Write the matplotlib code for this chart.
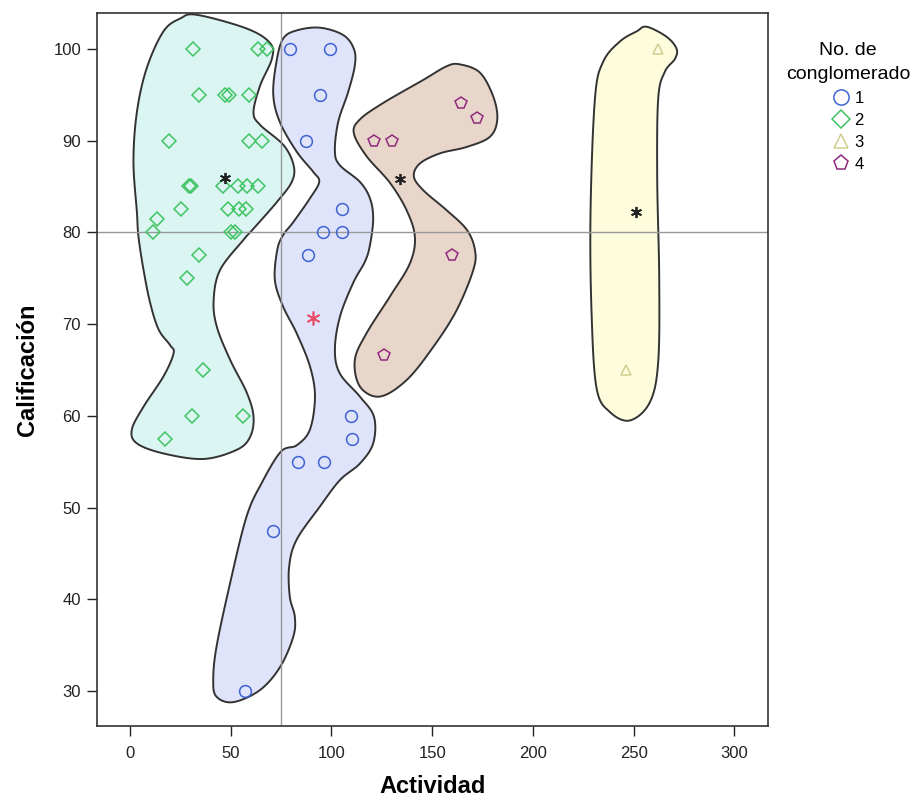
import numpy as np
import matplotlib
matplotlib.use("Agg")
import matplotlib.pyplot as plt
from matplotlib.lines import Line2D

plt.rcParams['font.family'] = ['Liberation Sans', 'DejaVu Sans']

# ---------------- data ----------------
c1_x = [79.3, 99.2, 94.2, 87.3, 105.3, 95.6, 105.3, 88.4, 109.5, 110.3, 83.3, 96.4, 71.2, 57.3]
c1_y = [100, 100, 95, 90, 82.5, 80, 80, 77.5, 60, 57.5, 55, 55, 47.5, 30]

c2_x = [31.2, 63.5, 67.9, 34.3, 46.9, 48.9, 59.3, 19.4, 59.1, 65.4, 29.5, 30.5, 46.1, 53.4,
        58.0, 63.5, 25.2, 48.4, 53.9, 57.7, 13.3, 11.3, 50.0, 52.2, 34.3, 28.2, 36.1, 31.0, 56.0, 17.3]
c2_y = [100, 100, 100, 95, 95, 95, 95, 90, 90, 90, 85, 85, 85, 85,
        85, 85, 82.5, 82.5, 82.5, 82.5, 81.4, 80, 80, 80, 77.5, 75, 65, 60, 60, 57.5]

c3_x = [262.2, 246.2]
c3_y = [100, 65]

c4_x = [164.2, 172.0, 121.1, 130.2, 159.6, 126.2]
c4_y = [94.1, 92.5, 90, 90, 77.5, 66.6]

centroid_x = [46.9, 134.0, 251.0]
centroid_y = [85.9, 85.8, 82.2]
overall_x = [90.6]
overall_y = [70.7]

ref_x = 75
ref_y = 80

# region outlines (data units)
hull2_x = [33.2, 58.0, 69.6, 70.4, 64.6, 61.3, 64.6, 76.2, 81.2, 80.3, 72.9, 61.3, 56.4, 44.7,
           41.5, 43.1, 49.7, 58.0, 61.3, 59.6, 53.0, 36.5, 16.6, 3.4, 0.9, 6.7, 16.6, 21.6, 19.9,
           14.2, 10.0, 6.7, 4.2, 3.4, 1.7, 3.4, 8.3, 16.6, 24.9]
hull2_y = [103.7, 102.2, 100.6, 98.9, 96.0, 93.1, 91.7, 89.5, 87.3, 85.5, 83.3, 80.4, 79.2, 75.9,
           72.6, 69.7, 66.1, 62.5, 59.9, 57.7, 56.3, 55.3, 55.9, 57.0, 58.5, 61.0, 64.3, 66.8, 67.7,
           69.4, 72.3, 75.9, 79.5, 82.2, 87.7, 93.1, 97.9, 101.9, 103.3]

hull1_x = [76.0, 82.7, 94.2, 105.8, 111.1, 111.6, 108.3, 103.3, 101.7, 104.2, 114.1, 119.1, 120.7,
           119.1, 116.6, 110.8, 104.2, 101.7, 104.2, 114.1, 121.1, 120.7, 114.1, 104.2, 94.2, 82.7,
           79.0, 79.3, 81.8, 81.0, 74.4, 64.4, 51.2, 42.9, 41.3, 42.9, 49.6, 57.8, 65.4, 74.9, 82.8,
           89.3, 91.8, 89.3, 82.7, 76.0, 71.9, 73.1, 76.0, 81.0, 89.3, 93.9, 90.9, 82.7, 74.4, 71.1, 72.7]
hull1_y = [101.1, 102.0, 102.3, 101.5, 100.0, 98.2, 95.3, 92.0, 88.8, 87.3, 85.5, 83.7, 81.5,
           78.6, 76.8, 74.5, 70.8, 67.2, 64.6, 62.1, 59.9, 57.0, 54.8, 53.0, 50.1, 46.5,
           43.6, 40.3, 38.1, 35.9, 32.6, 30.1, 28.8, 29.4, 31.2, 34.8, 41.7, 49.0, 52.7, 56.1, 56.8,
           58.5, 62.1, 65.4, 69.0, 71.9, 74.8, 78.1, 79.7, 81.1, 83.7, 85.5, 86.6, 88.8, 92.0, 95.0, 98.6]

hull4_x = [163.8, 173.7, 180.3, 182.3, 178.6, 167.1, 153.8, 143.9, 140.9, 145.5, 157.2, 167.1, 171.2,
           170.4, 162.1, 150.5, 137.3, 124.0, 114.1, 111.6, 117.4, 129.0, 138.9, 141.4, 137.3, 129.0,
           117.4, 111.1, 114.1, 125.7, 145.5, 157.2]
hull4_y = [98.3, 97.4, 94.8, 92.3, 90.4, 89.3, 88.6, 87.5, 86.1, 84.6, 82.4, 80.3, 78.1,
           75.9, 71.5, 67.5, 63.9, 62.1, 63.2, 66.1, 69.0, 73.0, 76.6, 79.5, 82.4, 85.4,
           88.3, 90.8, 92.3, 94.1, 96.6, 98.1]

hull3_x = [256.5, 266.4, 271.3, 270.5, 265.5, 262.2, 261.7, 262.7, 262.2, 258.1, 248.2, 238.3, 231.6,
           229.1, 228.6, 230.8, 234.9, 243.2, 251.5]
hull3_y = [102.4, 101.3, 100.0, 98.9, 97.5, 94.6, 85.9, 75.0, 65.9, 61.5, 59.5, 60.4, 63.0,
           71.3, 82.2, 94.6, 98.6, 100.8, 101.9]

x_ticks = [0, 50, 100, 150, 200, 250, 300]
y_ticks = [30, 40, 50, 60, 70, 80, 90, 100]
legend_labels = ['1', '2', '3', '4']

# ---------------- styles ----------------
col1, col2, col3, col4 = '#3f63d2', '#3fc463', '#cfcf8f', '#8f2a7c'
fill1, fill2, fill3, fill4 = '#dfe4fb', '#dbf5f3', '#fdfddd', '#e9d6ca'


def closed_spline(xs, ys, n=16, aspect=4.55):
    P = np.column_stack([np.asarray(xs, float), np.asarray(ys, float) * aspect])
    N = len(P)
    t = np.linspace(0, 1, n, endpoint=False)[:, None]
    segs = []
    for i in range(N):
        p0, p1, p2, p3 = P[i - 1], P[i], P[(i + 1) % N], P[(i + 2) % N]
        segs.append(0.5 * ((2 * p1) + (-p0 + p2) * t + (2 * p0 - 5 * p1 + 4 * p2 - p3) * t ** 2
                           + (-p0 + 3 * p1 - 3 * p2 + p3) * t ** 3))
    S = np.vstack(segs + [segs[0][:1]])
    return S[:, 0], S[:, 1] / aspect


fig = plt.figure(figsize=(9.24, 7.99), dpi=100)
ax = fig.add_axes([97 / 924, 73 / 799, (768 - 97) / 924, (726 - 13) / 799])

for hx, hy, fc in [(hull2_x, hull2_y, fill2), (hull1_x, hull1_y, fill1),
                   (hull4_x, hull4_y, fill4), (hull3_x, hull3_y, fill3)]:
    sx, sy = closed_spline(hx, hy)
    ax.fill(sx, sy, facecolor=fc, edgecolor='#333333', linewidth=1.4, zorder=1)

ax.axvline(ref_x, color='#999999', linewidth=1.0, zorder=2)
ax.axhline(ref_y, color='#999999', linewidth=1.0, zorder=2)

ax.plot(c1_x, c1_y, linestyle='none', marker='o', markersize=8.5, markerfacecolor='none',
        markeredgecolor=col1, markeredgewidth=1.1, zorder=3)
ax.plot(c2_x, c2_y, linestyle='none', marker='D', markersize=7, markerfacecolor='none',
        markeredgecolor=col2, markeredgewidth=1.1, zorder=3)
ax.plot(c3_x, c3_y, linestyle='none', marker='^', markersize=7, markerfacecolor='none',
        markeredgecolor=col3, markeredgewidth=1.1, zorder=3)
ax.plot(c4_x, c4_y, linestyle='none', marker='p', markersize=8.5, markerfacecolor='none',
        markeredgecolor=col4, markeredgewidth=1.1, zorder=3)
ax.plot(centroid_x, centroid_y, linestyle='none', marker=(6, 2, 0), markersize=8,
        markeredgecolor='#222222', markeredgewidth=1.3, zorder=4)
ax.plot(overall_x, overall_y, linestyle='none', marker=(6, 2, 0), markersize=10,
        markeredgecolor='#e8506a', markeredgewidth=1.2, zorder=4)

ax.set_xlim(-16.4, 316.7)
ax.set_ylim(26.2, 103.9)
ax.set_xticks(x_ticks)
ax.set_yticks(y_ticks)
ax.tick_params(axis='both', direction='out', length=7.5, width=1, labelsize=12, colors='#222222')
ax.tick_params(axis='x', pad=7)
ax.tick_params(axis='y', pad=4)
for s in ax.spines.values():
    s.set_color('#333333')
    s.set_linewidth(1.2)

ax.set_xlabel('Actividad', fontsize=17, fontweight='bold', labelpad=10)
ax.set_ylabel('Calificación', fontsize=17, fontweight='bold', labelpad=10)

handles = [Line2D([], [], linestyle='none', marker=m, markersize=ms, markerfacecolor='none',
                  markeredgecolor=c, markeredgewidth=1.1)
           for m, ms, c in [('o', 11, col1), ('D', 9, col2), ('^', 10, col3), ('p', 11, col4)]]
leg = fig.legend(handles, legend_labels, title='No. de\nconglomerado', loc='upper center',
                 bbox_to_anchor=(0.918, 0.956), frameon=False, fontsize=12, title_fontsize=14,
                 handlelength=1.0, handletextpad=0.3, labelspacing=0.42, borderaxespad=0.0)
leg.get_title().set_multialignment('center')
leg.get_title().set_linespacing(1.55)
leg._legend_box.sep = 6

fig.savefig('out.png', dpi=100)
